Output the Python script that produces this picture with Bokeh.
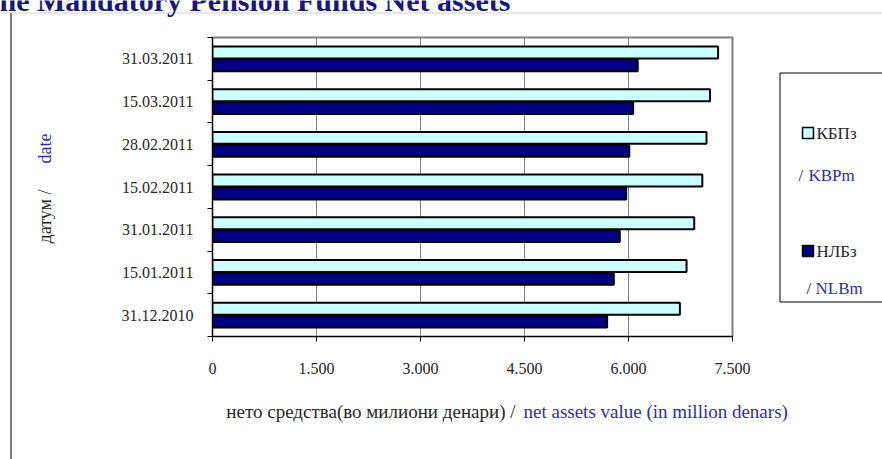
from math import pi
from bokeh.plotting import figure
from bokeh.models import (ColumnDataSource, Range1d, LinearAxis, FixedTicker, Grid, GridBox)
from bokeh.core.properties import value
from bokeh.transform import dodge
from bokeh.embed import file_html
from bokeh.resources import INLINE

# ---- data ----
dates = ["31.12.2010", "15.01.2011", "31.01.2011", "15.02.2011",
         "28.02.2011", "15.03.2011", "31.03.2011"]
kbp = [6741, 6837, 6948, 7065, 7125, 7176, 7292]   # КБПз / KBPm
nlb = [5692, 5788, 5874, 5966, 6011, 6067, 6133]   # НЛБз / NLBm
x_ticks = [0, 1500, 3000, 4500, 6000, 7500]
x_tick_labels = ["0", "1.500", "3.000", "4.500", "6.000", "7.500"]
series_mk = ["КБПз", "НЛБз"]
series_en = ["KBPm", "NLBm"]
title_text = "he Mandatory Pension Funds Net assets"
ylabel_mk = "датум /"
ylabel_en = "date"
xlabel_mk = "нето средства(во милиони денари) /"
xlabel_en = "net assets value (in million denars)"

colors = ["#CCFFFF", "#000080"]
FONT = "Liberation Serif"
DARK = "#262626"
BLUE = "#2E2EA8"
NAVY = "#17177E"
W, H = 882, 459

# ================= background figure: page texts, legend, borders =================
bg = figure(width=W, height=H, x_range=Range1d(0, W), y_range=Range1d(H, 0),
            output_backend="svg", toolbar_location=None,
            x_axis_location=None, y_axis_location=None, min_border=0)
bg.frame_align = False
bg.grid.visible = False
bg.outline_line_color = None
bg.background_fill_color = "white"
bg.border_fill_color = "white"

def txt(x, y, text, color, size, align="left", baseline="middle", angle=0, style="normal"):
    bg.text(x=[x], y=[y], text=[text], text_color=color, text_font=value(FONT),
            text_font_size=size, text_align=align, text_baseline=baseline,
            angle=angle, text_font_style=style)

# chart object borders
bg.segment(x0=[0], y0=[12.5], x1=[W], y1=[12.5], line_color="#CFCFCF", line_width=1)
bg.segment(x0=[10.5], y0=[12.5], x1=[10.5], y1=[H], line_color="black", line_width=1)

# title (clipped at the page edge as in the original)
txt(-1, 0, title_text, NAVY, "30px", baseline="alphabetic", style="bold")

# y-axis title
txt(44, 243, ylabel_mk, DARK, "18px", angle=pi / 2)
txt(44, 133, ylabel_en, BLUE, "18px", align="right", angle=pi / 2)

# x-axis title
txt(515, 411, xlabel_mk, DARK, "19px", align="right")
txt(523, 411, xlabel_en, BLUE, "19px")

# legend
bg.quad(left=[779.5], right=[W + 5], top=[72.5], bottom=[301.5],
        fill_color=None, line_color="black", line_width=1)
bg.quad(left=[802, 802], right=[813, 813], top=[127, 245], bottom=[138, 256],
        fill_color=colors, line_color="black", line_width=1.5)
txt(816, 133, series_mk[0], DARK, "17px")
txt(798, 175, "/", DARK, "17px")
txt(808, 175, series_en[0], BLUE, "17px")
txt(816, 251, series_mk[1], DARK, "17px")
txt(806, 288, "/", DARK, "17px")
txt(815, 288, series_en[1], BLUE, "17px")

# ================= chart figure (overlaid, transparent) =================
n = len(dates)
ypos = [i + 0.5 for i in range(n)]   # category centres on the y scale

p = figure(width=W, height=H,
           y_range=Range1d(0, n), x_range=Range1d(0, 7500),
           output_backend="svg", toolbar_location=None,
           x_axis_location=None, y_axis_location=None,
           min_border_left=212, min_border_right=150,
           min_border_top=37, min_border_bottom=123)
p.frame_align = False
p.grid.visible = False
p.outline_line_color = "#808080"
p.outline_line_width = 2
p.background_fill_alpha = 0
p.border_fill_alpha = 0

tick_axis = LinearAxis(ticker=FixedTicker(ticks=list(range(n + 1))),
                       major_tick_in=0, major_tick_out=5, minor_tick_line_color=None,
                       major_label_text_alpha=0, major_label_text_font_size="1px",
                       major_label_standoff=0, axis_line_color="black",
                       major_tick_line_color="black")
cat_axis = LinearAxis(ticker=FixedTicker(ticks=ypos),
                      major_label_overrides={y: d for y, d in zip(ypos, dates)},
                      major_tick_line_color=None, minor_tick_line_color=None,
                      axis_line_color=None, major_label_standoff=8,
                      major_label_text_font=FONT, major_label_text_font_size="16px",
                      major_label_text_color=DARK)
p.add_layout(tick_axis, "left")
p.add_layout(cat_axis, "left")

x_axis = LinearAxis(ticker=FixedTicker(ticks=x_ticks),
                    major_label_overrides={t: l for t, l in zip(x_ticks, x_tick_labels)},
                    major_tick_in=0, major_tick_out=5, minor_tick_line_color=None,
                    major_label_standoff=21, axis_line_color="black",
                    major_label_text_font=FONT, major_label_text_font_size="16px",
                    major_label_text_color=DARK)
p.add_layout(x_axis, "below")
p.add_layout(Grid(dimension=0, ticker=FixedTicker(ticks=x_ticks[1:-1]),
                  grid_line_color="#808080", grid_line_width=1))

src = ColumnDataSource(dict(date=dates, y=ypos, kbp=kbp, nlb=nlb))
p.hbar(y=dodge("y", 0.15), left=0, right="kbp", height=0.28,
       fill_color=colors[0], line_color="black", line_width=2, source=src)
p.hbar(y=dodge("y", -0.15), left=0, right="nlb", height=0.28,
       fill_color=colors[1], line_color="black", line_width=2, source=src)

layout = GridBox(children=[(bg, 0, 0), (p, 0, 0)])

open("out.html", "w").write(file_html(layout, INLINE))
